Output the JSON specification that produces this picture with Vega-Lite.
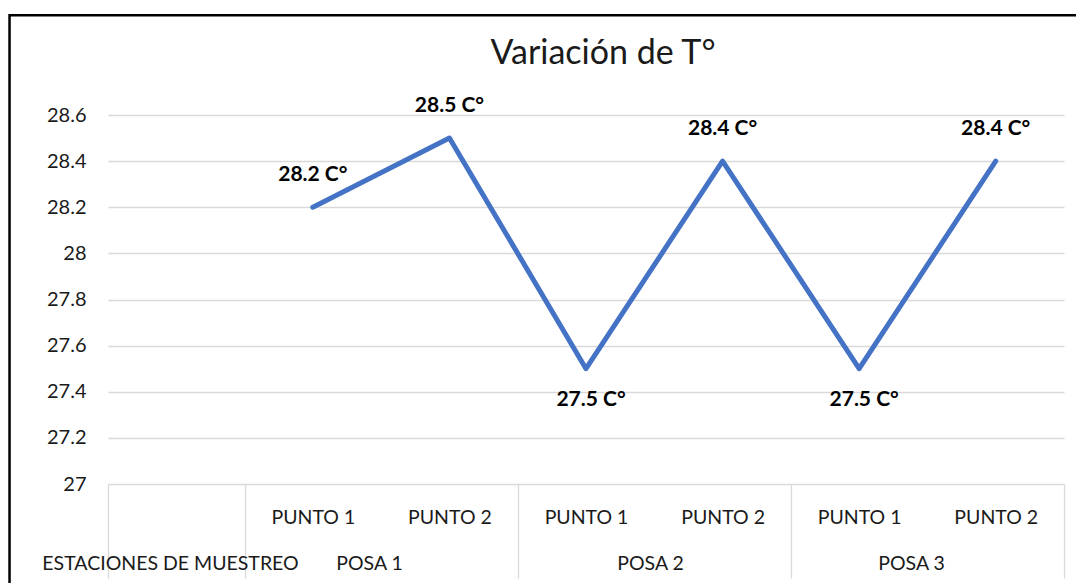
{
  "$schema": "https://vega.github.io/schema/vega-lite/v6.json",
  "width": 956,
  "height": 369,
  "autosize": {"type": "none"},
  "padding": {"left": 108, "top": 115, "right": 12, "bottom": 99},
  "background": "white",
  "config": {"view": {"stroke": null}, "font": "Lato"},
  "title": {
    "text": "Variación de T°",
    "fontSize": 34,
    "font": "Lato",
    "fontWeight": "normal",
    "color": "#1a1a1a",
    "anchor": "middle",
    "frame": "group",
    "dx": 17,
    "baseline": "alphabetic",
    "offset": -84
  },
  "data": {
    "values": [
      {"n": 1, "posa": "POSA 1", "punto": "PUNTO 1", "T": 28.2},
      {"n": 2, "posa": "POSA 1", "punto": "PUNTO 2", "T": 28.5},
      {"n": 3, "posa": "POSA 2", "punto": "PUNTO 1", "T": 27.5},
      {"n": 4, "posa": "POSA 2", "punto": "PUNTO 2", "T": 28.4},
      {"n": 5, "posa": "POSA 3", "punto": "PUNTO 1", "T": 27.5},
      {"n": 6, "posa": "POSA 3", "punto": "PUNTO 2", "T": 28.4}
    ]
  },
  "layer": [
    {
      "data": {"values": [{}]},
      "mark": {"type": "rect", "fill": null, "stroke": "#000000", "strokeWidth": 2.5, "clip": false},
      "encoding": {
        "x": {"datum": -1.221, "type": "quantitative", "scale": {"domain": [-0.5, 6.5], "nice": false, "zero": false}},
        "x2": {"datum": 7.5},
        "y": {"datum": 29.032, "type": "quantitative", "scale": {"domain": [27, 28.6], "nice": false, "zero": false}},
        "y2": {"datum": 26.3}
      }
    },
    {
      "mark": {"type": "line", "color": "#4472C4", "strokeWidth": 5, "strokeJoin": "round", "strokeCap": "round"},
      "encoding": {
        "x": {
          "field": "n",
          "type": "quantitative",
          "scale": {"domain": [-0.5, 6.5], "nice": false, "zero": false},
          "axis": {
            "values": [-0.5, -0.046, 0.5, 1, 1.411, 2, 2.5, 3, 3.469, 4, 4.5, 5, 5.38, 6, 6.5],
            "labelExpr": "indexof([1,3,5], datum.value) >= 0 ? 'PUNTO 1' : indexof([2,4,6], datum.value) >= 0 ? 'PUNTO 2' : datum.value == -0.046 ? 'ESTACIONES DE MUESTREO' : datum.value == 1.411 ? 'POSA 1' : datum.value == 3.469 ? 'POSA 2' : datum.value == 5.38 ? 'POSA 3' : ''",
            "title": null,
            "grid": false,
            "domain": false,
            "tickSize": 94,
            "tickColor": "#d9d9d9",
            "tickWidth": 1.3,
            "tickOpacity": {"condition": {"test": "datum.value == -0.5 || datum.value == 0.5 || datum.value == 2.5 || datum.value == 4.5 || datum.value == 6.5", "value": 1}, "value": 0},
            "labelPadding": {"condition": {"test": "indexof([1,2,3,4,5,6], datum.value) >= 0", "value": -61}, "value": -15},
            "labelBaseline": "middle",
            "labelAlign": "center",
            "labelFontSize": 19.5,
            "labelFont": "Lato",
            "labelColor": "#1a1a1a",
            "labelFlush": false,
            "labelOverlap": false,
            "labelBound": false,
            "labelLimit": 0,
            "labelAngle": 0
          }
        },
        "y": {
          "field": "T",
          "type": "quantitative",
          "scale": {"domain": [27, 28.6], "nice": false, "zero": false},
          "axis": {
            "values": [27, 27.2, 27.4, 27.6, 27.8, 28, 28.2, 28.4, 28.6],
            "format": ".3~g",
            "title": null,
            "domain": false,
            "ticks": false,
            "grid": true,
            "gridColor": "#d9d9d9",
            "gridWidth": 1.3,
            "labelPadding": 22,
            "labelFontSize": 20,
            "labelFont": "Lato",
            "labelColor": "#1a1a1a",
            "labelBaseline": "middle"
          }
        }
      }
    },
    {
      "transform": [
        {"filter": "datum.T > 28"},
        {"calculate": "format(datum.T, '.1f') + ' C°'", "as": "label"}
      ],
      "mark": {"type": "text", "fontSize": 21, "fontWeight": "bold", "font": "Lato", "color": "#000000", "baseline": "middle", "dy": -32},
      "encoding": {
        "x": {"field": "n", "type": "quantitative"},
        "y": {"field": "T", "type": "quantitative"},
        "text": {"field": "label"}
      }
    },
    {
      "transform": [
        {"filter": "datum.T <= 28"},
        {"calculate": "format(datum.T, '.1f') + ' C°'", "as": "label"}
      ],
      "mark": {"type": "text", "fontSize": 21, "fontWeight": "bold", "font": "Lato", "color": "#000000", "baseline": "middle", "dy": 31, "dx": 5},
      "encoding": {
        "x": {"field": "n", "type": "quantitative"},
        "y": {"field": "T", "type": "quantitative"},
        "text": {"field": "label"}
      }
    }
  ]
}
